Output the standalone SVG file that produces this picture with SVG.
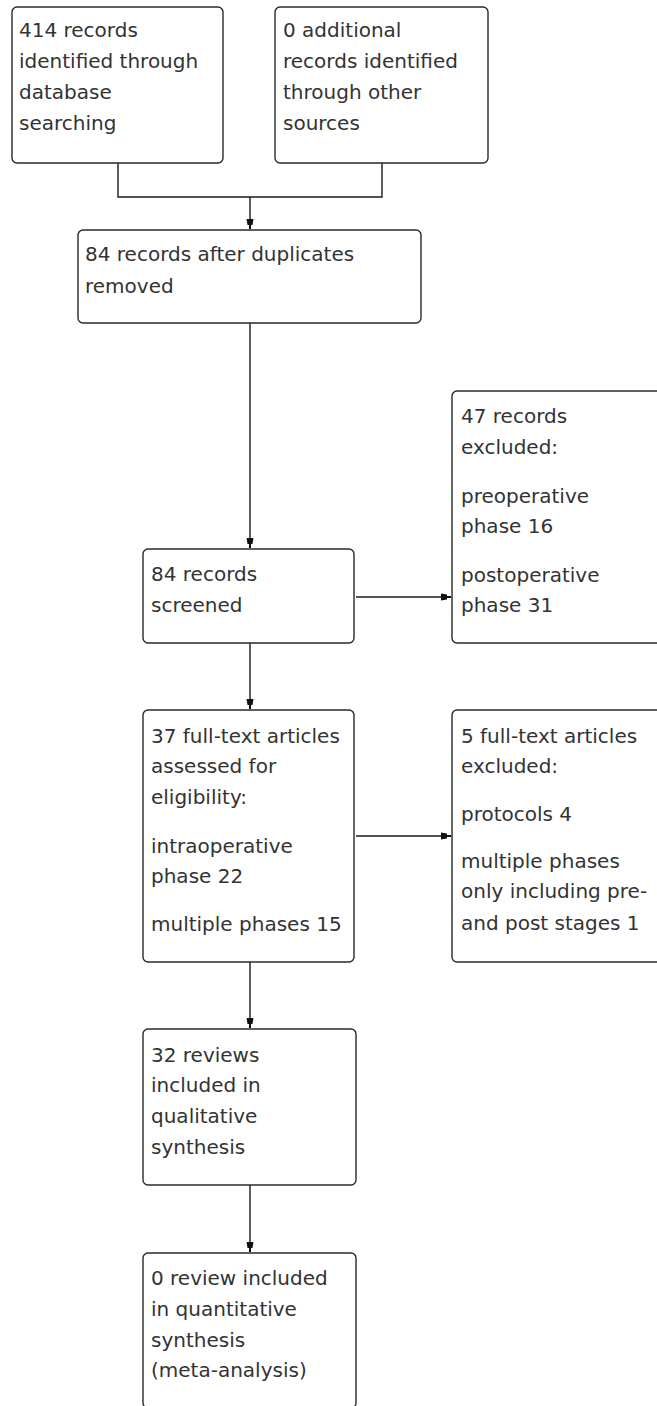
<svg xmlns="http://www.w3.org/2000/svg" width="657" height="1406" viewBox="0 0 657 1406">
<style>
.box{fill:#fff;stroke:#2a2a2a;stroke-width:1.4}
.t{font-family:"DejaVu Sans",sans-serif;font-size:20px;fill:#333}
.c{fill:none;stroke:#1a1a1a;stroke-width:1.4}
</style>
<defs>
<marker id="ah" markerUnits="userSpaceOnUse" viewBox="0 -5 10 10" refX="10" refY="0" markerWidth="10" markerHeight="10" orient="auto">
<path d="M0,-3.5 L6,-2.5 L6,-1 L10,-1 L10,1 L6,1 L6,2.5 L0,3.5 Z" fill="#111"/>
</marker>
</defs>
<rect width="657" height="1406" fill="#fff"/>
<g id="connectors">
<path class="c" d="M118,163 V197 H382 V163"/>
<path class="c" d="M250,197 V229" marker-end="url(#ah)"/>
<path class="c" d="M250,323 V548" marker-end="url(#ah)"/>
<path class="c" d="M356,597 H451" marker-end="url(#ah)"/>
<path class="c" d="M250,643 V709" marker-end="url(#ah)"/>
<path class="c" d="M356,836 H451" marker-end="url(#ah)"/>
<path class="c" d="M250,962 V1028" marker-end="url(#ah)"/>
<path class="c" d="M250,1185 V1252" marker-end="url(#ah)"/>
</g>
<g id="n1">
<rect class="box" x="12" y="7" width="211" height="156" rx="5"/>
<text class="t" x="19"><tspan x="19" y="37">414 records</tspan><tspan x="19" y="68">identified through</tspan><tspan x="19" y="99">database</tspan><tspan x="19" y="130">searching</tspan></text>
</g>
<g id="n2">
<rect class="box" x="275" y="7" width="213" height="156" rx="5"/>
<text class="t"><tspan x="283" y="37">0 additional</tspan><tspan x="283" y="68">records identified</tspan><tspan x="283" y="99">through other</tspan><tspan x="283" y="130">sources</tspan></text>
</g>
<g id="n3">
<rect class="box" x="78" y="230" width="343" height="93" rx="5"/>
<text class="t"><tspan x="85" y="261">84 records after duplicates</tspan><tspan x="85" y="293">removed</tspan></text>
</g>
<g id="n4">
<rect class="box" x="143" y="549" width="211" height="94" rx="5"/>
<text class="t"><tspan x="151" y="581">84 records</tspan><tspan x="151" y="612">screened</tspan></text>
</g>
<g id="n5">
<rect class="box" x="452" y="391" width="230" height="252" rx="5"/>
<text class="t"><tspan x="461" y="423">47 records</tspan><tspan x="461" y="454">excluded:</tspan><tspan x="461" y="503">preoperative</tspan><tspan x="461" y="533">phase 16</tspan><tspan x="461" y="582">postoperative</tspan><tspan x="461" y="612">phase 31</tspan></text>
</g>
<g id="n6">
<rect class="box" x="143" y="710" width="211" height="252" rx="5"/>
<text class="t"><tspan x="151" y="743">37 full-text articles</tspan><tspan x="151" y="773">assessed for</tspan><tspan x="151" y="804">eligibility:</tspan><tspan x="151" y="853">intraoperative</tspan><tspan x="151" y="883">phase 22</tspan><tspan x="151" y="931">multiple phases 15</tspan></text>
</g>
<g id="n7">
<rect class="box" x="452" y="710" width="230" height="252" rx="5"/>
<text class="t"><tspan x="461" y="743">5 full-text articles</tspan><tspan x="461" y="773">excluded:</tspan><tspan x="461" y="821">protocols 4</tspan><tspan x="461" y="868">multiple phases</tspan><tspan x="461" y="898">only including pre-</tspan><tspan x="461" y="930">and post stages 1</tspan></text>
</g>
<g id="n8">
<rect class="box" x="143" y="1029" width="213" height="156" rx="5"/>
<text class="t"><tspan x="151" y="1062">32 reviews</tspan><tspan x="151" y="1092">included in</tspan><tspan x="151" y="1123">qualitative</tspan><tspan x="151" y="1154">synthesis</tspan></text>
</g>
<g id="n9">
<rect class="box" x="143" y="1253" width="213" height="155" rx="5"/>
<text class="t"><tspan x="151" y="1285">0 review included</tspan><tspan x="151" y="1316">in quantitative</tspan><tspan x="151" y="1347">synthesis</tspan><tspan x="151" y="1377">(meta-analysis)</tspan></text>
</g>
</svg>
